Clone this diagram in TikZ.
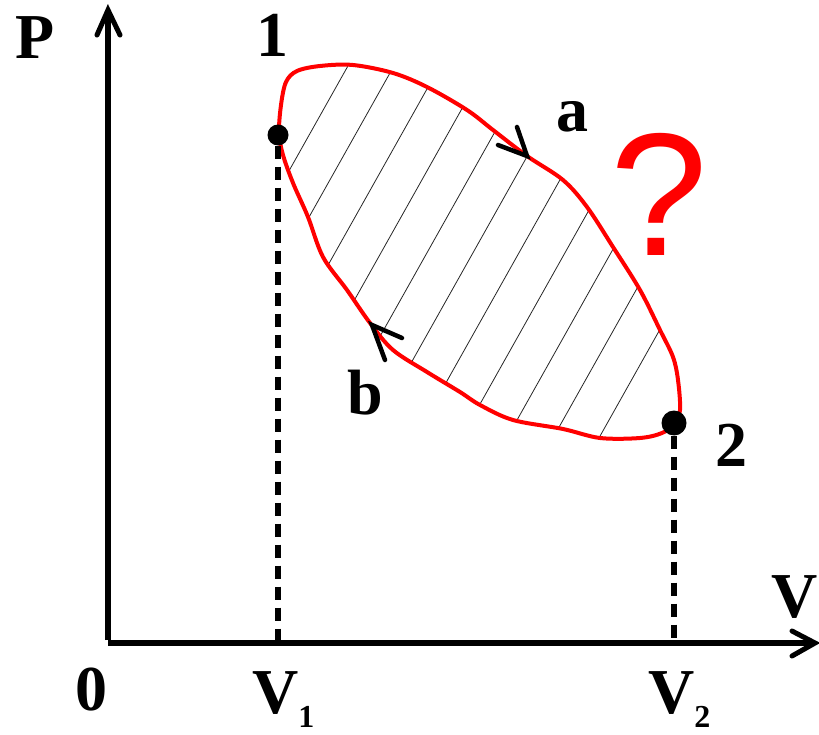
\documentclass[tikz,border=0pt]{standalone}
\usepackage{fontspec}
\setmainfont{Liberation Serif}
\newfontfamily\qfont{Liberation Sans}
\begin{document}
\begin{tikzpicture}[x=1pt,y=-1pt,
  axis/.style={line width=5.5pt},
  axtip/.style={line width=5pt, line cap=round, line join=miter},
  lbl/.style={font=\fontsize{64}{64}\selectfont\bfseries, inner sep=0pt},
  cyc/.style={red, line width=4pt},
  hatchline/.style={line width=0.8pt, black!85},
  dashline/.style={line width=6pt, dash pattern=on 13pt off 8pt},
  dot/.style={circle, fill=black, inner sep=0pt},
  tipline/.style={line width=4.5pt, line cap=round}]
\useasboundingbox (0,0) rectangle (819,735);
% axes
\coordinate (O) at (108,643);
\coordinate (Ptip) at (108,10);
\coordinate (Vtip) at (815,643);
\coordinate (Pa1) at (97,35);
\coordinate (Pa2) at (120,35);
\coordinate (Va1) at (792,631);
\coordinate (Va2) at (792,656);
\draw[axis] (108,640) -- (Ptip);
\draw[axis] (O) -- (Vtip);
\draw[axtip] (Pa1) -- (Ptip) -- (Pa2);
\draw[axtip] (Va1) -- (Vtip) -- (Va2);
% hatching
\begin{scope}
\clip plot[smooth cycle, tension=0.55] coordinates {(279,133) (281,105) (286,82) (297,71) (320,66) (353,65) (393,73) (427,87) (467,110) (493,130) (527,156) (563,180) (587,207) (613,247) (640,290) (660,330) (673,357) (678,380) (680,410) (674,424) (662,433) (640,438) (600,438) (563,429) (513,420) (480,405) (460,392) (427,372) (393,350) (370,323) (347,290) (323,257) (308,217) (293,183) (283,155)};
\foreach \c in {385,431,...,860}
  \draw[hatchline] ({\c-252.8},450) -- ({\c-28.1},50);
\end{scope}
% cycle
\draw[cyc] plot[smooth cycle, tension=0.55] coordinates {(279,133) (281,105) (286,82) (297,71) (320,66) (353,65) (393,73) (427,87) (467,110) (493,130) (527,156) (563,180) (587,207) (613,247) (640,290) (660,330) (673,357) (678,380) (680,410) (674,424) (662,433) (640,438) (600,438) (563,429) (513,420) (480,405) (460,392) (427,372) (393,350) (370,323) (347,290) (323,257) (308,217) (293,183) (283,155)};
% direction marks
\coordinate (at) at (527,156);
\coordinate (aa1) at (517,127);
\coordinate (aa2) at (498,145);
\draw[tipline] (aa1) -- (at) -- (aa2);
\coordinate (bt) at (372,325);
\coordinate (ba1) at (402,338);
\coordinate (ba2) at (385,360);
\draw[tipline] (ba1) -- (bt) -- (ba2);
% points
\node[dot, minimum size=21pt] (n1) at (278,135) {};
\node[dot, minimum size=25pt] (n2) at (674,423) {};
\draw[dashline] (n1.south) -- (n1.south |- O);
\draw[dashline] (n2.south) -- (n2.south |- O);
% labels
\node[lbl] (lP) at (35,38) {P};
\node[lbl] (l1) at (272,35) {1};
\node[lbl] (l2) at (731,445) {2};
\node[lbl] (la) at (572,117) {a};
\node[lbl] (lb) at (365,393) {b};
\node[lbl] (l0) at (91,690) {0};
\node[lbl, anchor=base west] (lV) at (771,617) {V};
\node[lbl, anchor=base west] (lV1) at (252,713) {V\raisebox{-14pt}{\fontsize{32}{32}\selectfont 1}};
\node[lbl, anchor=base west] (lV2) at (648,713) {V\raisebox{-14pt}{\fontsize{32}{32}\selectfont 2}};
\node[font=\qfont\fontsize{175}{175}\selectfont, text=red, inner sep=0pt] (q) at (659,194) {?};
\end{tikzpicture}
\end{document}
